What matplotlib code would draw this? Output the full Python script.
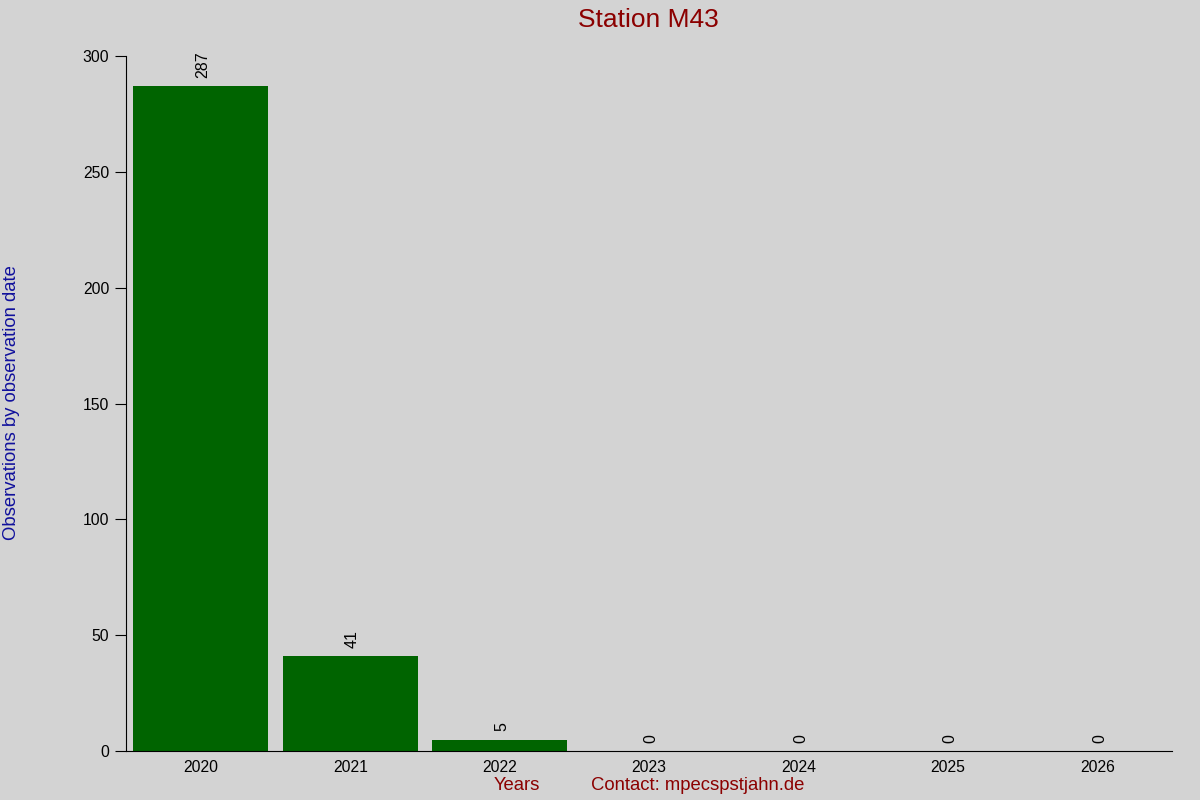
import matplotlib
matplotlib.use('Agg')
import matplotlib.pyplot as plt

# data
years = ['2020', '2021', '2022', '2023', '2024', '2025', '2026']
counts = [287, 41, 5, 0, 0, 0, 0]

plt.rcParams['font.family'] = ['Liberation Sans', 'DejaVu Sans']

bg = '#d3d3d3'
fig = plt.figure(figsize=(12, 8), dpi=100, facecolor=bg)
ax = fig.add_axes([0.105, 0.061, 0.872, 0.869], facecolor=bg)

pos = list(range(len(years)))
bars = ax.bar(pos, counts, width=0.905, color='#006400')

# value labels, rotated above each bar
for x, v in zip(pos, counts):
    ax.annotate(str(v), (x, v), xytext=(1.5, 6), textcoords='offset points',
                rotation=90, ha='center', va='bottom', fontsize=11.5)

# tiny marks along the top edge
ax.scatter(pos[1:], [300] * (len(pos) - 1), s=0.3, color='black', marker='s')

ax.set_xlim(-0.5, len(years) - 0.5)
ax.set_ylim(0, 300)
ax.set_yticks([0, 50, 100, 150, 200, 250, 300])
ax.set_xticks(pos)
ax.set_xticklabels(years)
ax.tick_params(axis='x', length=0, labelsize=11.3, pad=6)
ax.tick_params(axis='y', length=8, labelsize=11.3, pad=4, direction='out')

for side in ['top', 'right']:
    ax.spines[side].set_visible(False)
ax.spines['left'].set_bounds(0, 300)

fig.text(0.54, 0.975, 'Station M43', ha='center', va='center',
         fontsize=19, color='#8b0000')
fig.text(0.010, 0.497, 'Observations by observation date', rotation=90,
         ha='center', va='center', fontsize=13.3, color='#10109c')
fig.text(0.431, 0.018, 'Years', ha='center', va='center',
         fontsize=13.3, color='#8b0000')
fig.text(0.581, 0.018, 'Contact: mpecspstjahn.de', ha='center', va='center',
         fontsize=13.3, color='#8b0000')

fig.savefig('out.png', dpi=100, facecolor=bg)
